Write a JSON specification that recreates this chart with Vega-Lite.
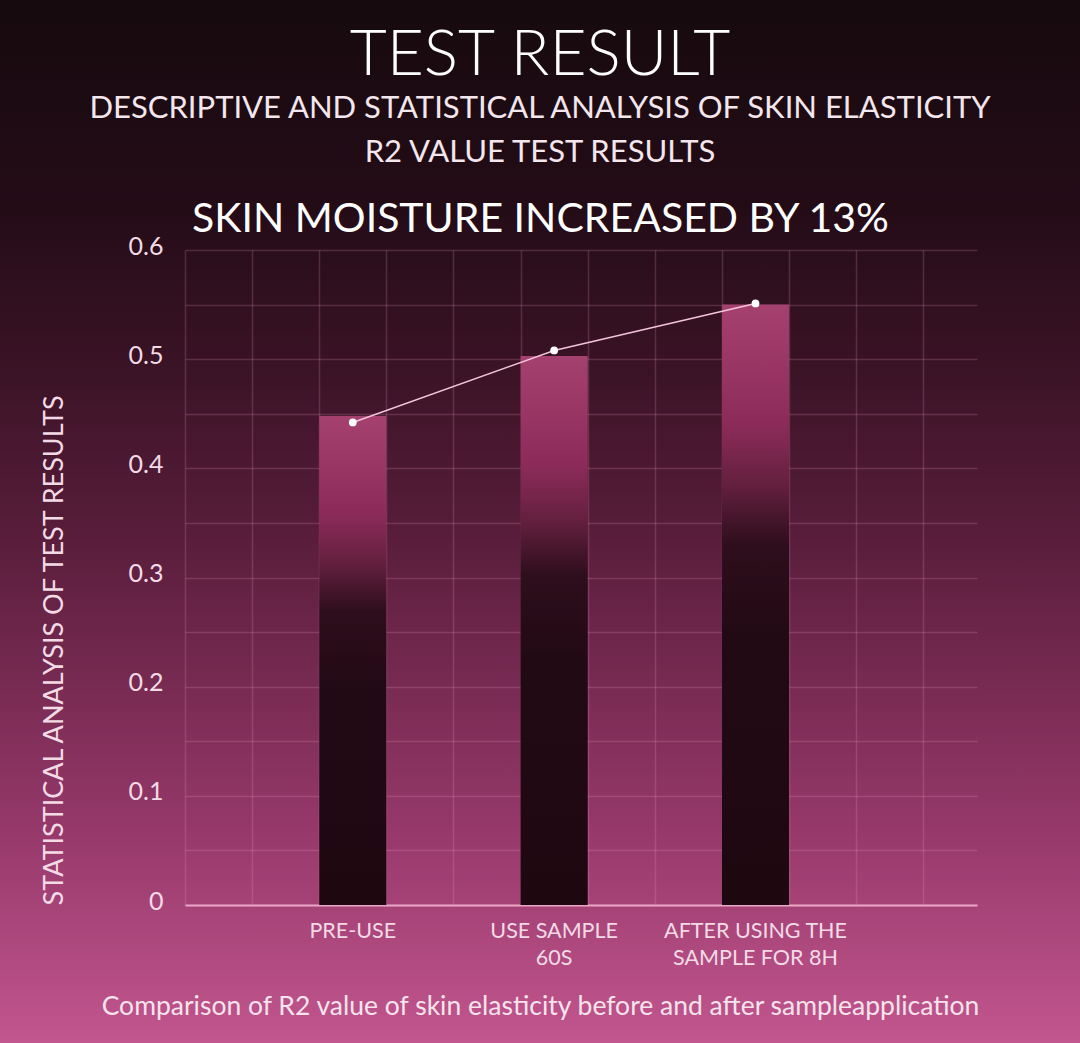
{
  "$schema": "https://vega.github.io/schema/vega-lite/v6.json",
  "width": 1080,
  "height": 1043,
  "autosize": {"type": "none"},
  "padding": 0,
  "background": "#160a0e",
  "view": {
    "stroke": null,
    "fill": {
      "gradient": "linear", "x1": 0, "y1": 0, "x2": 0, "y2": 1,
      "stops": [
        {"offset": 0, "color": "#160a0e"},
        {"offset": 0.2, "color": "#240c17"},
        {"offset": 0.35, "color": "#3a1325"},
        {"offset": 0.5, "color": "#561c39"},
        {"offset": 0.65, "color": "#762a51"},
        {"offset": 0.8, "color": "#97396b"},
        {"offset": 1, "color": "#c2568e"}
      ]
    }
  },
  "title": {
    "text": "TEST RESULT",
    "subtitle": ["DESCRIPTIVE AND STATISTICAL ANALYSIS OF SKIN ELASTICITY", "R2 VALUE TEST RESULTS"],
    "anchor": "middle",
    "frame": "group",
    "orient": "top",
    "offset": -168,
    "font": "Lato",
    "fontSize": 64,
    "fontWeight": 300,
    "color": "#ffffff",
    "subtitleFont": "Lato",
    "subtitleFontSize": 31,
    "subtitleFontWeight": 400,
    "subtitleColor": "#f3e6ec",
    "subtitleLineHeight": 44,
    "subtitlePadding": 6
  },
  "config": {
    "font": "Lato"
  },
  "data": {
    "values": [
      {"stage": "PRE-USE", "value": 0.448, "point": 0.442},
      {"stage": "USE SAMPLE|60S", "value": 0.503, "point": 0.508},
      {"stage": "AFTER USING THE|SAMPLE FOR 8H", "value": 0.55, "point": 0.551}
    ]
  },
  "layer": [
    {
      "mark": {
        "type": "bar",
        "color": {
          "gradient": "linear", "x1": 0, "y1": 0, "x2": 0, "y2": 1,
          "stops": [
            {"offset": 0, "color": "#a5416f"},
            {"offset": 0.2, "color": "#8c2b5a"},
            {"offset": 0.3, "color": "#64203f"},
            {"offset": 0.4, "color": "#2e0e1c"},
            {"offset": 0.55, "color": "#220a14"},
            {"offset": 1, "color": "#1e0810"}
          ]
        }
      },
      "encoding": {
        "x": {
          "field": "stage",
          "type": "nominal",
          "sort": null,
          "scale": {
            "domain": ["_0", "_1", "PRE-USE", "_3", "_4", "USE SAMPLE|60S", "_6", "_7", "AFTER USING THE|SAMPLE FOR 8H", "_9", "_10"],
            "range": [185, 977],
            "paddingInner": 0,
            "paddingOuter": 0.4,
            "align": 0
          },
          "axis": {
            "orient": "bottom",
            "offset": -138,
            "grid": false,
            "ticks": false,
            "tickSize": 0,
            "domain": true,
            "domainColor": "#e9a6c6",
            "domainWidth": 2,
            "labelAngle": 0,
            "labelExpr": "indexof(datum.label, '_') == 0 ? '' : split(datum.label, '|')",
            "labelFont": "Lato",
            "labelFontSize": 21.5,
            "labelFontWeight": 400,
            "labelColor": "#f3dbe6",
            "labelPadding": 15,
            "labelLineHeight": 27,
            "labelBaseline": "top",
            "labelOverlap": false,
            "labelBound": false,
            "labelLimit": 400,
            "title": "Comparison of R2 value of skin elasticity before and after sampleapplication",
            "titleX": 540,
            "titleY": 101,
            "titleAlign": "center",
            "titleBaseline": "middle",
            "titleFont": "Lato",
            "titleFontSize": 26.5,
            "titleFontWeight": 400,
            "titleColor": "#f6e4ec"
          }
        },
        "y": {
          "field": "value",
          "type": "quantitative",
          "scale": {"domain": [0, 0.6], "range": [905, 250], "nice": false, "zero": true},
          "axis": {
            "orient": "left",
            "offset": -185,
            "values": [0, 0.05, 0.1, 0.15, 0.2, 0.25, 0.3, 0.35, 0.4, 0.45, 0.5, 0.55, 0.6],
            "labelExpr": "round(datum.value * 100) % 10 == 0 ? format(datum.value, '.1~f') : ''",
            "grid": true,
            "gridColor": "#f0a0c8",
            "gridOpacity": 0.2,
            "gridWidth": 1.5,
            "ticks": false,
            "tickSize": 0,
            "domain": false,
            "labelFont": "Lato",
            "labelFontSize": 25,
            "labelFontWeight": 400,
            "labelColor": "#f3dbe6",
            "labelPadding": 22,
            "labelOffset": -4,
            "title": "STATISTICAL ANALYSIS OF TEST RESULTS",
            "titleAnchor": "start",
            "titleFont": "Lato",
            "titleFontSize": 27,
            "titleFontWeight": 400,
            "titleColor": "#f3dbe6",
            "titlePadding": 60
          }
        }
      }
    },
    {
      "mark": {
        "type": "line",
        "color": "#f4c4da",
        "strokeWidth": 1.5,
        "point": {"filled": true, "color": "#ffffff", "size": 60, "opacity": 1}
      },
      "encoding": {
        "x": {
          "field": "stage",
          "type": "nominal",
          "sort": null,
          "axis": {
            "orient": "top",
            "offset": 0,
            "labels": false,
            "ticks": false,
            "domain": false,
            "grid": true,
            "tickBand": "extent",
            "gridColor": "#f0a0c8",
            "gridOpacity": 0.2,
            "gridWidth": 1.5,
            "title": "SKIN MOISTURE INCREASED BY 13%",
            "titleX": 540,
            "titleY": 219,
            "titleAlign": "center",
            "titleBaseline": "middle",
            "titleFont": "Lato",
            "titleFontSize": 41,
            "titleFontWeight": 400,
            "titleColor": "#ffffff"
          }
        },
        "y": {"field": "point", "type": "quantitative", "axis": null}
      }
    }
  ],
  "resolve": {"axis": {"x": "independent", "y": "independent"}}
}
